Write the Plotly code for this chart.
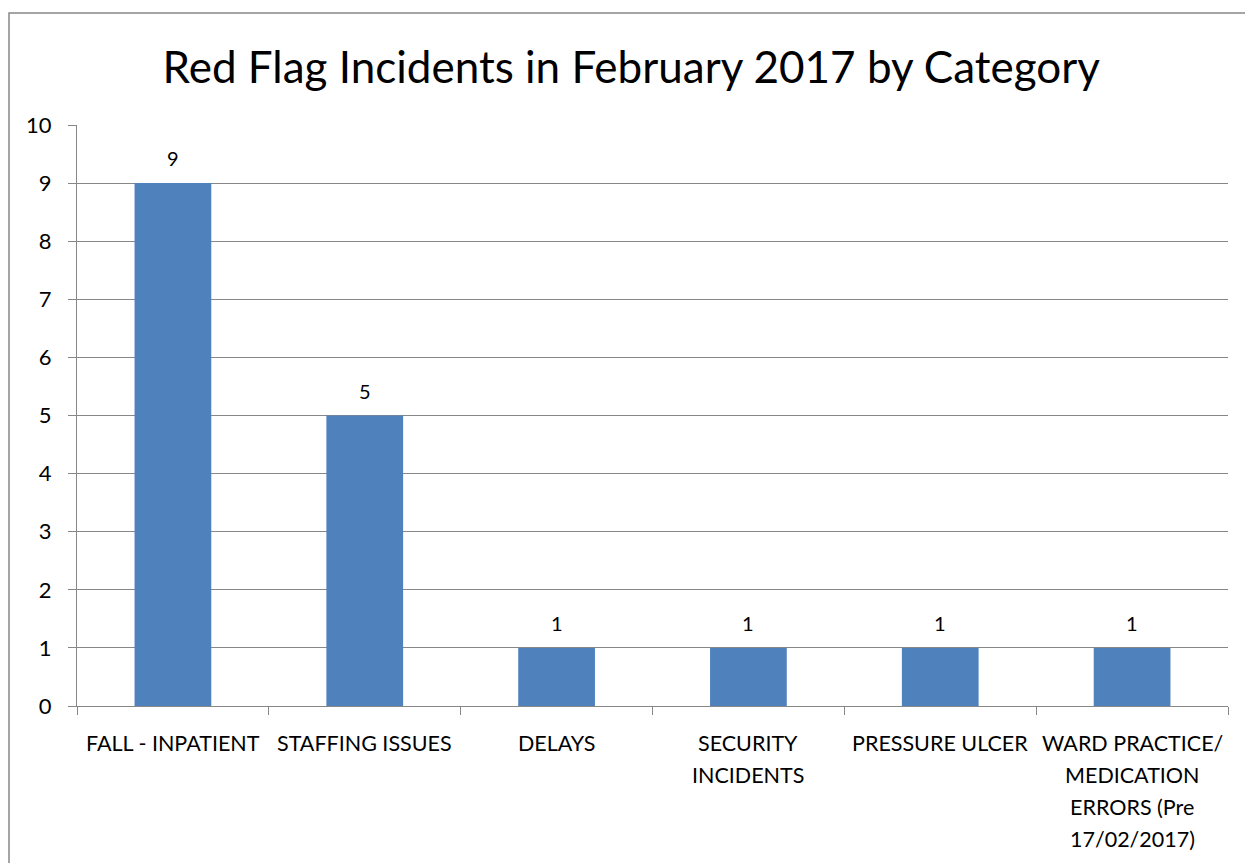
import plotly.graph_objects as go

categories = ["FALL - INPATIENT", "STAFFING ISSUES", "DELAYS",
              "SECURITY INCIDENTS", "PRESSURE ULCER",
              "WARD PRACTICE/ MEDICATION ERRORS (Pre 17/02/2017)"]
label_lines = [["FALL - INPATIENT"], ["STAFFING ISSUES"], ["DELAYS"],
               ["SECURITY", "INCIDENTS"], ["PRESSURE ULCER"],
               ["WARD PRACTICE/", "MEDICATION", "ERRORS (Pre", "17/02/2017)"]]
values = [9, 5, 1, 1, 1, 1]
y_ticks = list(range(0, 11))

FONT = "Lato"
GRID = "#878787"

fig = go.Figure(go.Bar(x=categories, y=values, marker=dict(color="#4F81BD", line=dict(width=0)),
                       width=0.4, hoverinfo="x+y"))

annotations = []
for c, v in zip(categories, values):
    annotations.append(dict(x=c, y=v, xref="x", yref="y", text=str(v), showarrow=False,
                            yanchor="middle", yshift=25,
                            font=dict(family=FONT, size=20, color="#000000")))
for c, lines in zip(categories, label_lines):
    for i, ln in enumerate(lines):
        annotations.append(dict(x=c, y=0, xref="x", yref="paper", text=ln, showarrow=False,
                                yanchor="middle", yshift=-37 - 32 * i,
                                font=dict(family=FONT, size=21.5, color="#000000")))

fig.update_layout(
    width=1245, height=863,
    margin=dict(l=77, r=17, t=125, b=157),
    paper_bgcolor="white", plot_bgcolor="white",
    showlegend=False,
    title=dict(text="Red Flag Incidents in February 2017 by Category",
               x=0.507, xref="container", xanchor="center",
               y=1 - 68 / 863, yref="container", yanchor="middle",
               font=dict(family=FONT, size=44, color="#000000")),
    annotations=annotations,
    bargap=0.6,
    shapes=[dict(type="rect", xref="paper", yref="paper",
                 x0=(9 - 77) / 1151, x1=(1260 - 77) / 1151,
                 y0=-0.4, y1=(706 - 13) / 581,
                 line=dict(color="#888888", width=1.5))],
)
fig.update_xaxes(type="category", range=[-0.5, 5.5], showticklabels=False,
                 ticks="outside", tickson="boundaries", ticklen=8, tickcolor=GRID,
                 showline=True, linecolor=GRID, linewidth=1, showgrid=False, zeroline=False)
fig.update_yaxes(range=[0, 10], tickvals=y_ticks, ticks="outside", ticklen=8, tickcolor=GRID,
                 showline=True, linecolor=GRID, linewidth=1,
                 showgrid=True, gridcolor=GRID, gridwidth=1, zeroline=False,
                 ticklabelstandoff=12,
                 tickfont=dict(family=FONT, size=22, color="#000000"))

fig.write_html("out.html")
